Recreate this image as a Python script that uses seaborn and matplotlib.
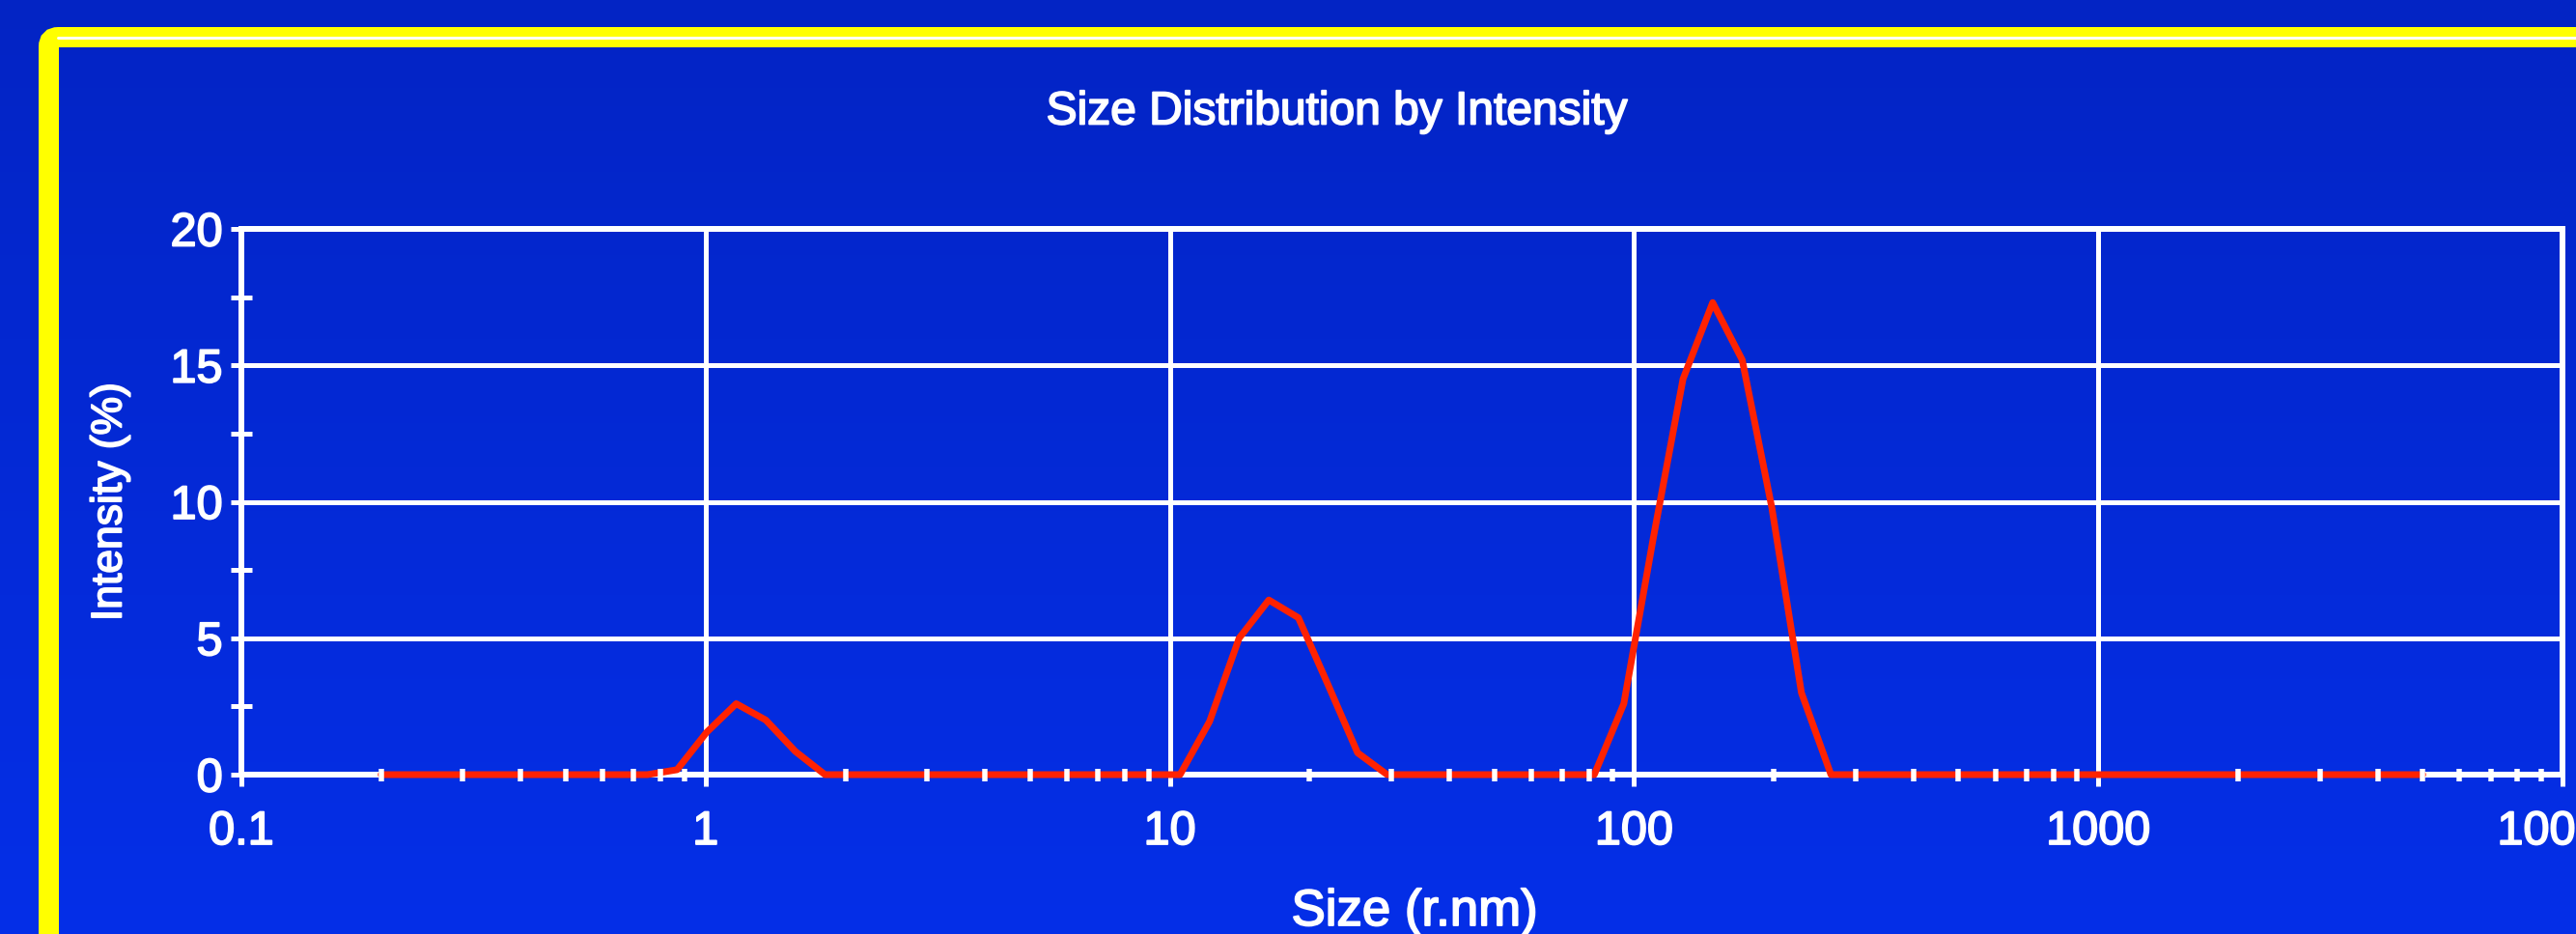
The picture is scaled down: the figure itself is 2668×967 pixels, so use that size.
import numpy as np
import pandas as pd
import matplotlib
matplotlib.use("Agg")
import matplotlib.pyplot as plt
import seaborn as sns
from matplotlib.patches import FancyBboxPatch
from matplotlib.lines import Line2D
from matplotlib.ticker import MultipleLocator, LogLocator, NullFormatter
from matplotlib.transforms import IdentityTransform
import matplotlib.patheffects as pe

# ---------------- data ----------------
size_rnm = [0.2, 0.2316, 0.2683, 0.3107, 0.3598, 0.4166, 0.4825, 0.5586, 0.6470, 0.7495,
            0.8680, 1.005, 1.164, 1.348, 1.561, 1.808, 2.094, 2.425, 2.808, 3.252,
            3.766, 4.361, 5.050, 5.850, 6.770, 7.845, 9.085, 10.52, 12.18, 14.10,
            16.34, 18.92, 21.91, 25.38, 29.39, 34.03, 39.41, 45.64, 52.85, 61.20,
            70.90, 82.10, 95.05, 110.1, 127.5, 147.7, 171.0, 198.0, 229.4, 265.6,
            307.6, 356.2, 412.5, 477.7, 553.0, 640.5, 742.0, 859.0, 995.0, 1153,
            1335, 1546, 1790, 2073, 2401, 2780, 3220, 3728, 4318, 5000]
intensity_pct = [0, 0, 0, 0, 0, 0, 0, 0, 0, 0,
                 0.18, 1.55, 2.6, 2.0, 0.85, 0, 0, 0, 0, 0,
                 0, 0, 0, 0, 0, 0, 0, 0, 1.95, 5.0,
                 6.4, 5.75, 3.3, 0.8, 0, 0, 0, 0, 0, 0,
                 0, 0, 2.6, 8.7, 14.5, 17.3, 15.2, 9.8, 3.0, 0,
                 0, 0, 0, 0, 0, 0, 0, 0, 0, 0,
                 0, 0, 0, 0, 0, 0, 0, 0, 0, 0]
x_ticks = [0.1, 1, 10, 100, 1000, 10000]
x_tick_labels = ["0.1", "1", "10", "100", "1000", "10000"]
y_ticks = [0, 5, 10, 15, 20]
y_tick_labels = ["0", "5", "10", "15", "20"]
title_text = "Size Distribution by Intensity"
x_label = "Size (r.nm)"
y_label = "Intensity (%)"

df = pd.DataFrame({"size": size_rnm, "intensity": intensity_pct})

# ---------------- style ----------------
sns.set_theme(style="white")
plt.rcParams["font.family"] = ["Liberation Sans", "DejaVu Sans"]

W, H, DPI = 2668, 967, 100
PX = 72 / DPI  # points per pixel
fig = plt.figure(figsize=(W / DPI, H / DPI), dpi=DPI)
heavy = [pe.withStroke(linewidth=1.3, foreground="white")]

# background gradient
bg = fig.add_axes([0, 0, 1, 1], zorder=-10)
top_c = np.array([0x03, 0x24, 0xC4]) / 255.0
bot_c = np.array([0x05, 0x2F, 0xE8]) / 255.0
t = np.linspace(0, 1, 256)[:, None]
grad = (top_c[None, :] * (1 - t) + bot_c[None, :] * t)[:, None, :]
bg.imshow(grad, aspect="auto", extent=[0, 1, 0, 1])
bg.set_axis_off()

# yellow rounded frame (pixel coordinates)
frame = FancyBboxPatch((50.5, -200), 4000, H - 38.5 + 200,
                       boxstyle="round,pad=0,rounding_size=10",
                       transform=IdentityTransform(), facecolor="none",
                       edgecolor="#FFFF00", linewidth=21 * PX, zorder=5)
fig.patches.append(frame)
fig.add_artist(Line2D([60 / W, 1.0], [1 - 39.2 / H] * 2, color="white",
                      linewidth=3 * PX, zorder=6))

# main axes
L, R, T, B = 250, 2654, 237, 802
pos = [L / W, 1 - B / H, (R - L) / W, (B - T) / H]
ax = fig.add_axes(pos)
ax.set_facecolor("none")
ax.set_axisbelow(True)

sns.lineplot(data=df, x="size", y="intensity", ax=ax, color="#FF2200",
             linewidth=7 * PX, clip_on=False, zorder=3)

ax.set_xscale("log")
ax.set_xlim(0.1, 10000)
ax.set_ylim(0, 20)
ax.set_xticks(x_ticks, x_tick_labels)
ax.set_yticks(y_ticks, y_tick_labels)
ax.xaxis.set_minor_locator(LogLocator(base=10, subs=np.arange(2, 10)))
ax.xaxis.set_minor_formatter(NullFormatter())
ax.yaxis.set_minor_locator(MultipleLocator(2.5))

ax.grid(True, which="major", color="white", linewidth=5 * PX)
for s in ax.spines.values():
    s.set_color("white")
    s.set_linewidth(6 * PX)
    s.set_zorder(2.5)

tick_fs = 35
ax.tick_params(axis="x", which="major", bottom=True, direction="out", length=12 * PX,
               width=5 * PX, color="white", labelcolor="white", labelsize=tick_fs, pad=18)
ax.tick_params(axis="y", which="major", left=True, direction="out", length=11 * PX,
               width=5 * PX, color="white", labelcolor="white", labelsize=tick_fs, pad=6)
ax.tick_params(which="minor", length=0)
for lab in ax.get_xticklabels() + ax.get_yticklabels():
    lab.set_path_effects(heavy)

ax.set_xlabel(x_label, color="white", fontsize=38, path_effects=heavy)
ax.xaxis.set_label_coords((1465 - L) / (R - L), (B - 944) / (B - T))
ax.xaxis.label.set_verticalalignment("center")
ax.set_ylabel(y_label, color="white", fontsize=32, path_effects=heavy)
ax.yaxis.set_label_coords((114 - L) / (R - L), 0.5)
ax.yaxis.label.set_verticalalignment("center")

# overlay axes: minor ticks drawn above the curve
ov = fig.add_axes(pos, sharex=ax, sharey=ax, zorder=ax.get_zorder() + 1)
ov.set_facecolor("none")
ov.patch.set_alpha(0)
for s in ov.spines.values():
    s.set_visible(False)
ov.grid(False)
ov.tick_params(which="major", length=0, bottom=False, left=False,
               labelbottom=False, labelleft=False)
ov.tick_params(axis="x", which="minor", bottom=True, direction="inout",
               length=13 * PX, width=5.5 * PX, color="white")
ov.tick_params(axis="y", which="minor", left=True, direction="inout",
               length=22 * PX, width=5 * PX, color="white")
ov.set_xlabel("")
ov.set_ylabel("")

fig.text(1385 / W, 1 - 116 / H, title_text, color="white", fontsize=34.5,
         ha="center", va="center", path_effects=heavy)

fig.savefig("out.png", dpi=DPI)
